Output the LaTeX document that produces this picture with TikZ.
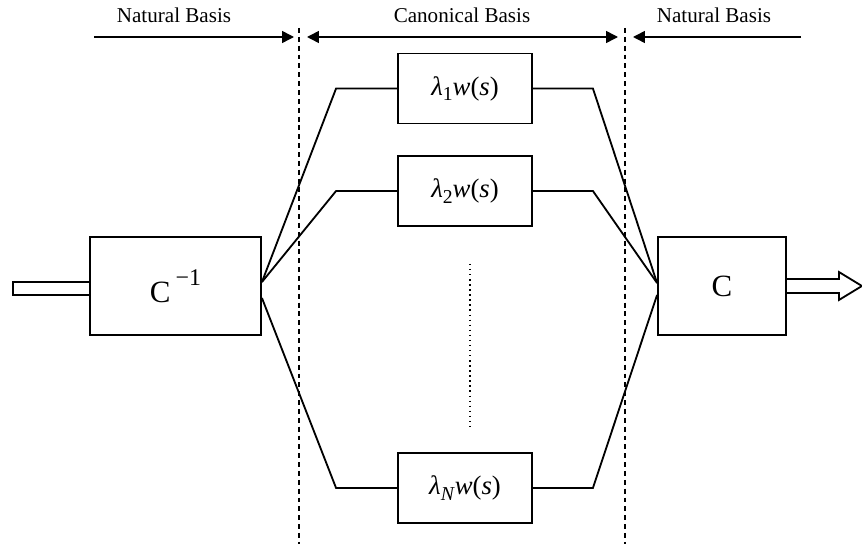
\documentclass[tikz,border=0pt]{standalone}
\usepackage{fontspec}
\setmainfont{Liberation Serif}
\usepackage{tikz}
\usetikzlibrary{calc, arrows.meta}

\newcommand{\lowidx}[1]{\raisebox{-0.45ex}{\fontsize{14}{16}\selectfont #1}}

\begin{document}
\begin{tikzpicture}[x=0.025cm, y=-0.025cm,
    wire/.style={line width=1.3pt},
    sidebox/.style={draw, line width=1.3pt, minimum height=2.45cm, inner sep=0pt, font=\fontsize{22}{26}\selectfont},
    chanbox/.style={draw, line width=1.3pt, minimum width=3.35cm, minimum height=1.75cm, inner sep=0pt, font=\fontsize{19}{22}\selectfont},
    basis/.style={font=\fontsize{15}{18}\selectfont},
    marker/.style={line width=1.1pt, -{Triangle[length=8.5pt, width=8.5pt]}},
    bothmarker/.style={line width=1.1pt, {Triangle[length=8.5pt, width=8.5pt]}-{Triangle[length=8.5pt, width=8.5pt]}},
    border/.style={line width=1.1pt, dash pattern=on 3.5pt off 2.8pt}]
    \useasboundingbox (0,0) rectangle (862,544);
    % basis labels and their arrows
    \node[basis] (natleft) at (174,15) {Natural Basis};
    \node[basis] (canon) at (462,15) {Canonical Basis};
    \node[basis] (natright) at (714,15) {Natural Basis};
    \coordinate (a1) at (94,37);
    \coordinate (a2) at (294,37);
    \coordinate (a3) at (307,37);
    \coordinate (a4) at (618,37);
    \coordinate (a5) at (633,37);
    \coordinate (a6) at (801,37);
    \draw[marker] (a1) -- (a2);
    \draw[bothmarker] (a3) -- (a4);
    \draw[marker] (a6) -- (a5);
    % boundaries
    \coordinate (b1top) at (299,28);
    \coordinate (b1bot) at (299,544);
    \coordinate (b2top) at (625,28);
    \coordinate (b2bot) at (625,544);
    \draw[border] (b1top) -- (b1bot);
    \draw[border] (b2top) -- (b2bot);
    % blocks
    \node[sidebox, minimum width=4.275cm] (cinv) at (175.5,286) {C\,\raisebox{1.2ex}{\fontsize{17}{20}\selectfont −1}};
    \node[sidebox, minimum width=3.2cm] (c) at (722,286) {C};
    \node[chanbox] (l1) at (465,88.5) {\textit{λ}\lowidx{1}\textit{w}(\textit{s})};
    \node[chanbox] (l2) at (465,191) {\textit{λ}\lowidx{2}\textit{w}(\textit{s})};
    \node[chanbox] (ln) at (465,488) {\textit{λ}\lowidx{\textit{N}}\textit{w}(\textit{s})};
    % fan out and fan in
    \draw[wire] ($(cinv.east)+(0,-4)$) -- ($(l1.west)+(-61,0)$) -- (l1.west);
    \draw[wire] ($(cinv.east)+(0,-4)$) -- ($(l2.west)+(-61,0)$) -- (l2.west);
    \draw[wire] ($(cinv.east)+(0,12)$) -- ($(ln.west)+(-61,0)$) -- (ln.west);
    \draw[wire] (l1.east) -- ($(l1.east)+(60,0)$) -- ($(c.west)+(0,-3)$);
    \draw[wire] (l2.east) -- ($(l2.east)+(60,0)$) -- ($(c.west)+(0,-3)$);
    \draw[wire] (ln.east) -- ($(ln.east)+(60,0)$) -- ($(c.west)+(0,9)$);
    \draw[line width=1.1pt, dash pattern=on 1pt off 2.6pt] ($(l2.south)+(5,37)$) -- ($(ln.north)+(5,-23)$);
    % input and output
    \draw[wire] ($(cinv.west)+(0,-4)$) -- ++(-76,0) -- ++(0,13) -- ++(76,0);
    \draw[wire] ($(c.east)+(0,-7)$) -- ++(52,0) -- ++(0,-7) -- ++(23,14) -- ++(-23,14) -- ++(0,-7) -- ++(-52,0);
\end{tikzpicture}
\end{document}
